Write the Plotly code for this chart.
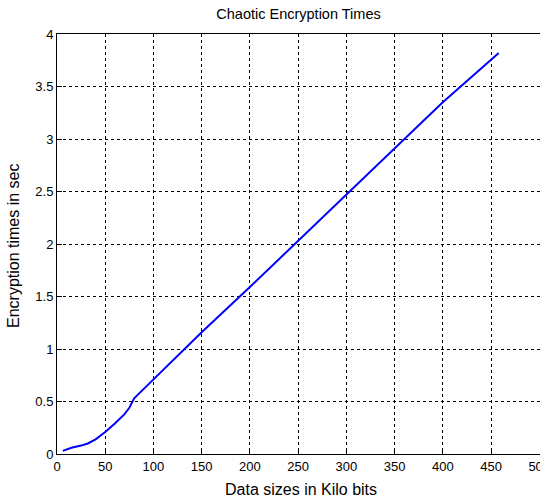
import plotly.graph_objects as go

data_sizes = [6, 15, 25, 32, 40, 50, 60, 70, 75, 80, 90, 100, 150, 200, 250, 300, 350, 400, 458]
enc_times = [0.03, 0.06, 0.08, 0.10, 0.14, 0.21, 0.29, 0.38, 0.44, 0.53, 0.62, 0.71, 1.16, 1.59, 2.03, 2.47, 2.91, 3.35, 3.82]

x_ticks = [0, 50, 100, 150, 200, 250, 300, 350, 400, 450, 500]
y_ticks = [0, 0.5, 1, 1.5, 2, 2.5, 3, 3.5, 4]
y_tick_text = ["0", "0.5", "1", "1.5", "2", "2.5", "3", "3.5", "4"]

font = "Liberation Sans, Arial, sans-serif"

W, H = 540, 499
L, R, T, B = 57, 0, 34, 45
plot_w = W - L - R
plot_h = H - T - B

fig = go.Figure()
fig.add_trace(go.Scatter(x=data_sizes, y=enc_times, mode="lines",
                         line=dict(color="#0000ff", width=2)))

axis_common = dict(showline=True, linecolor="#000000", linewidth=1,
                   ticks="inside", ticklen=5, tickcolor="#000000",
                   showgrid=True, gridcolor="#000000", gridwidth=1, griddash="3px,3px",
                   zeroline=False, ticklabeloverflow="allow", automargin=False,
                   tickfont=dict(family=font, size=13, color="#000000"))

fig.update_layout(
    width=W, height=H,
    margin=dict(l=L, r=R, t=T, b=B, autoexpand=False),
    paper_bgcolor="#ffffff", plot_bgcolor="#ffffff",
    showlegend=False,
    title=dict(text="Chaotic Encryption Times", x=0.5, xanchor="center",
               xref="paper", y=(H - 14) / H, yanchor="middle", yref="container",
               font=dict(family=font, size=14.5, color="#000000")),
    xaxis=dict(range=[0, 500.8], tickvals=x_ticks, ticktext=[str(v) for v in x_ticks],
               mirror=True, **axis_common),
    yaxis=dict(range=[0, 4], tickvals=y_ticks, ticktext=y_tick_text,
               mirror=False, **axis_common),
    annotations=[
        dict(text="Data sizes in Kilo bits", xref="paper", yref="paper",
             x=(301 - L) / plot_w, y=-(490 - (H - B)) / plot_h,
             xanchor="center", yanchor="middle", showarrow=False,
             font=dict(family=font, size=16, color="#000000")),
        dict(text="Encryption times in sec", xref="paper", yref="paper",
             x=-(L - 13) / plot_w, y=((H - B) - 246) / plot_h, textangle=-90,
             xanchor="center", yanchor="middle", showarrow=False,
             font=dict(family=font, size=16, color="#000000")),
    ],
)

fig.write_html("out.html")
